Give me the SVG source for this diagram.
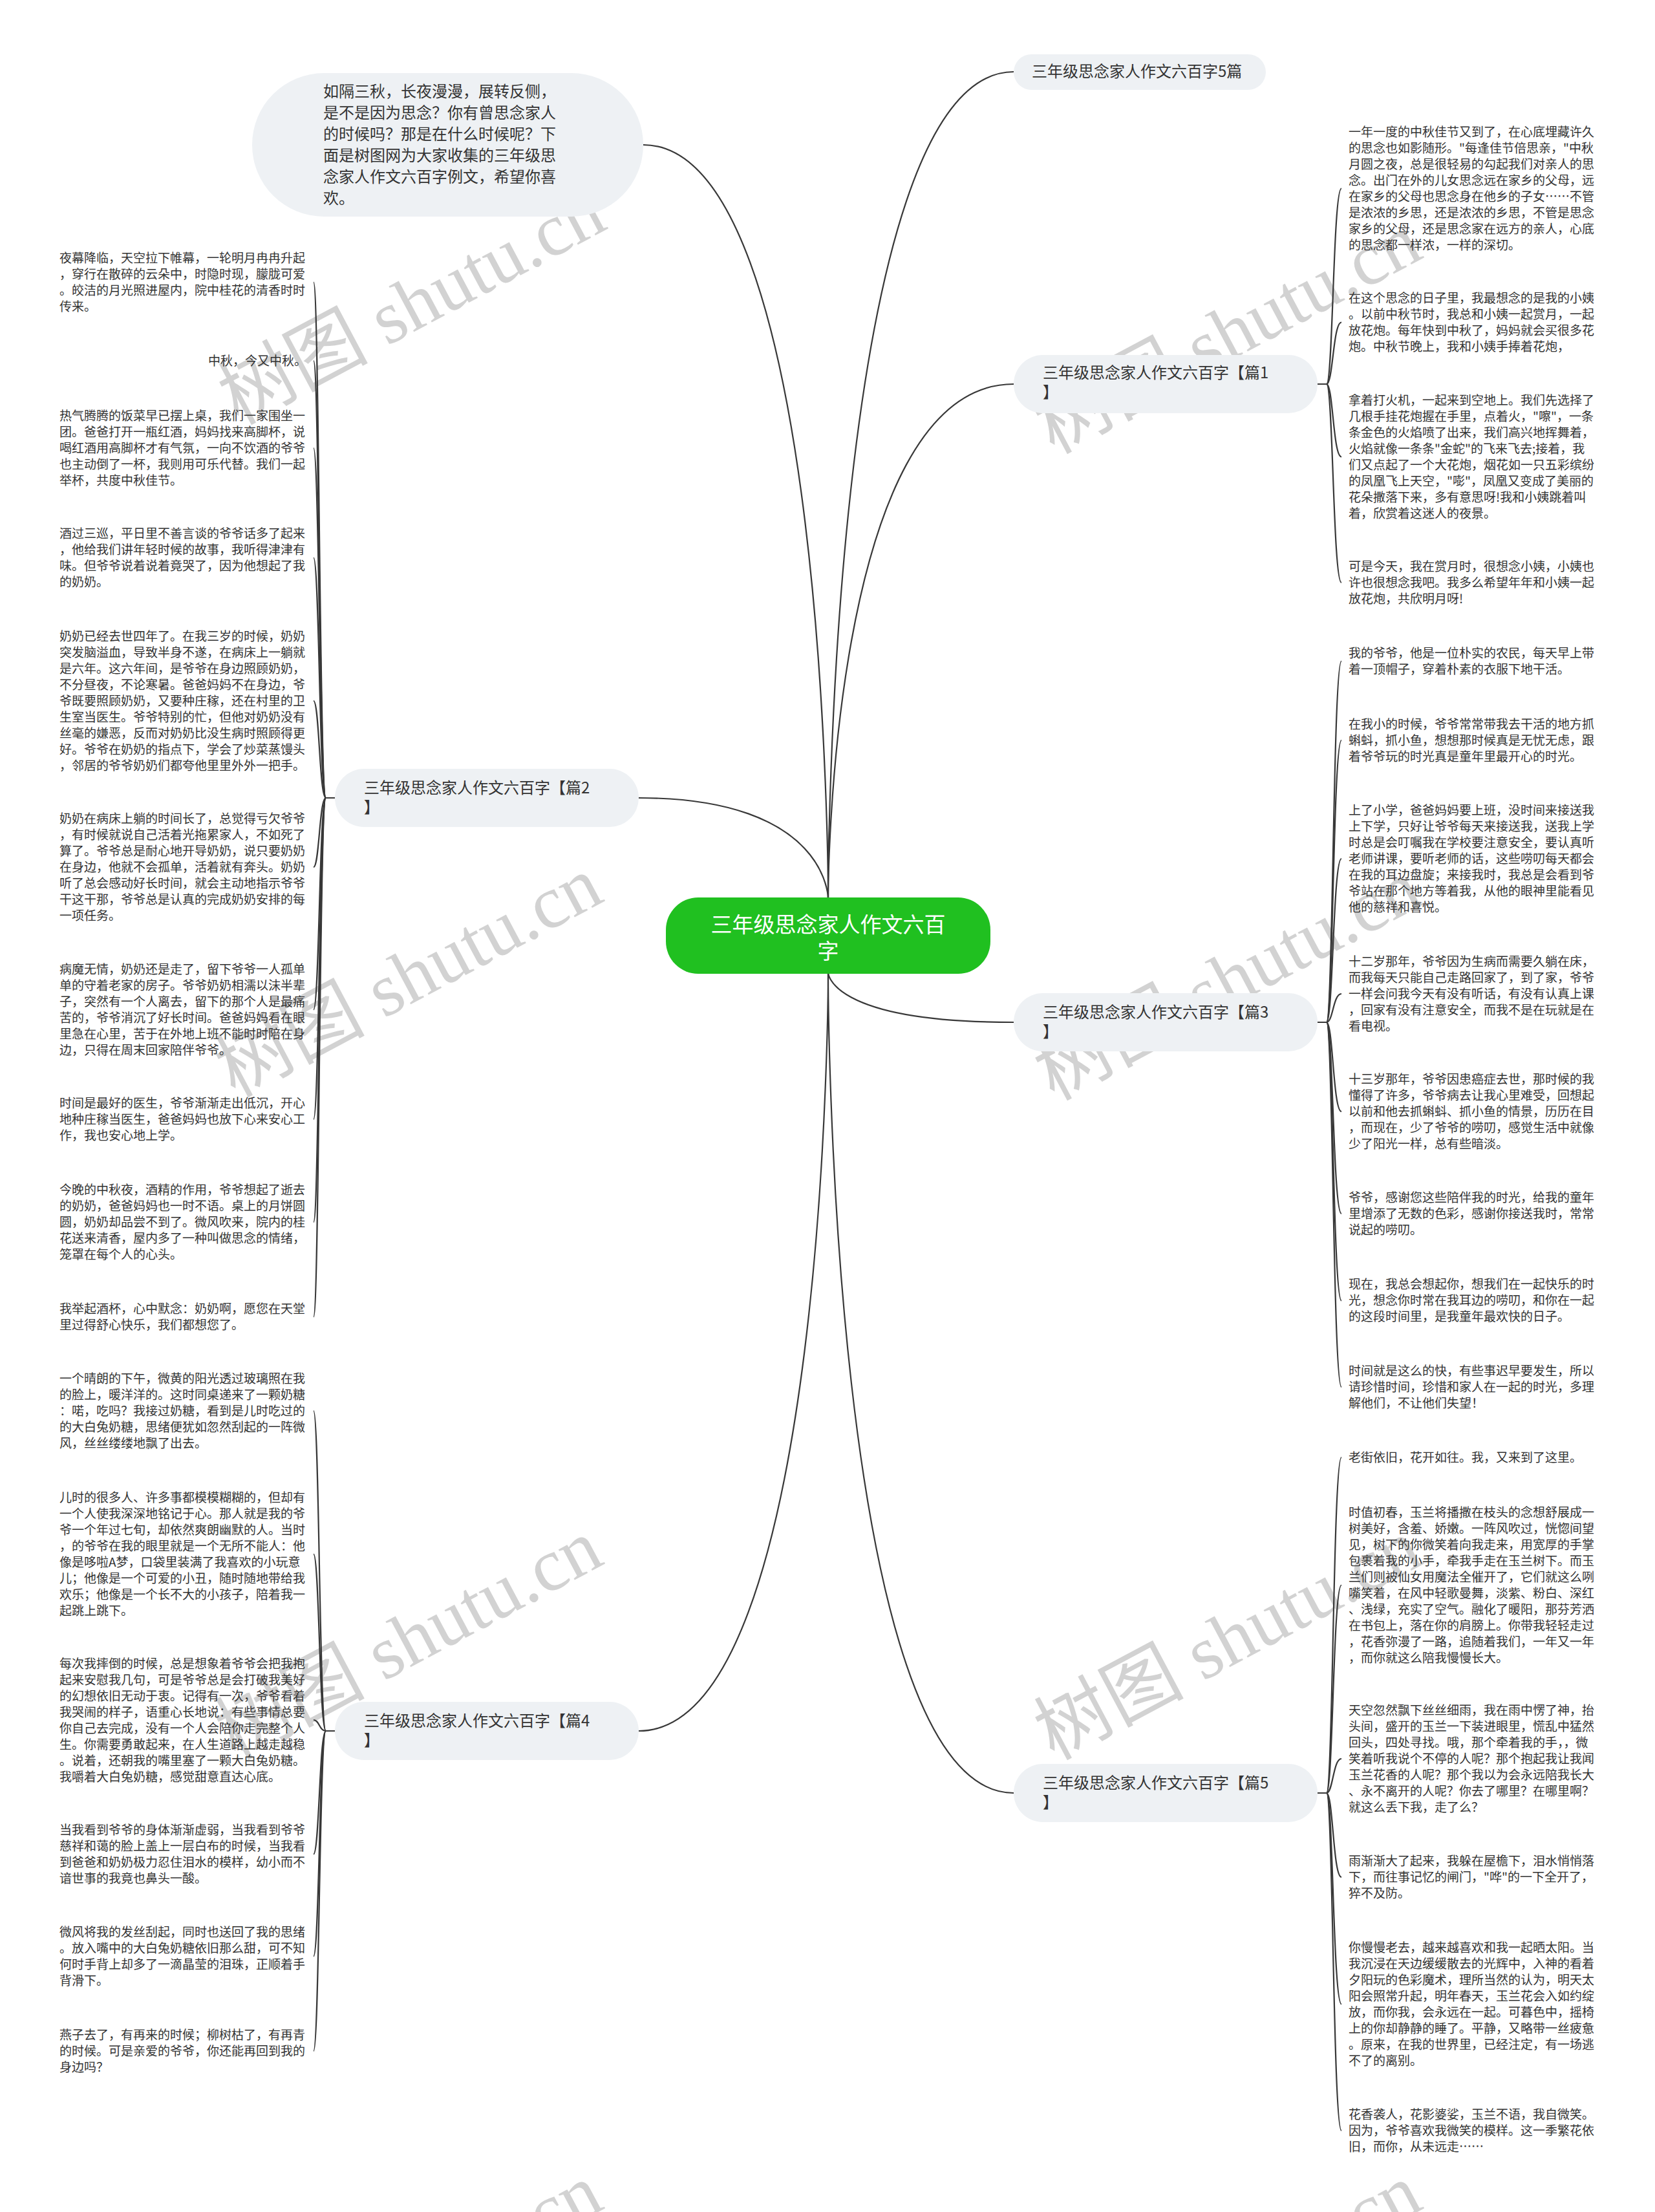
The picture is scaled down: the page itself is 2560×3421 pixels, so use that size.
<svg xmlns="http://www.w3.org/2000/svg" width="2560" height="3421" viewBox="0 0 2560 3421">
<style>
.bg{fill:#ffffff}
.wm{font-family:"Liberation Serif","Noto Sans CJK SC",serif;font-size:116px;fill:#d2d2d2}
.lk{fill:none;stroke:#383838;stroke-width:2.2}
.s{font-family:"Noto Sans CJK SC","Liberation Sans",sans-serif;font-size:19px;fill:#333333}
.b{font-family:"Noto Sans CJK SC","Liberation Sans",sans-serif;font-size:24px;fill:#333333}
.pill{fill:#eef1f4}
.root{fill:#20c020}
.rt{font-family:"Noto Sans CJK SC","Liberation Sans",sans-serif;font-size:33px;fill:#ffffff;text-anchor:middle}
</style>
<rect class="bg" x="0" y="0" width="2560" height="3421"/>
<g id="watermarks">
<text class="wm" transform="translate(368 658) rotate(-28)">树图 shutu.cn</text>
<text class="wm" transform="translate(363 1698) rotate(-28)">树图 shutu.cn</text>
<text class="wm" transform="translate(363 2723) rotate(-28)">树图 shutu.cn</text>
<text class="wm" transform="translate(363 3720) rotate(-28)">树图 shutu.cn</text>
<text class="wm" transform="translate(1630 703) rotate(-28)">树图 shutu.cn</text>
<text class="wm" transform="translate(1630 1703) rotate(-28)">树图 shutu.cn</text>
<text class="wm" transform="translate(1630 2723) rotate(-28)">树图 shutu.cn</text>
<text class="wm" transform="translate(1630 3720) rotate(-28)">树图 shutu.cn</text>
</g>
<g id="links">
<path class="lk" d="M1281 1390 C1281 1390 1281 224 995 224"/>
<path class="lk" d="M1281 1390 C1281 1390 1281 111 1568 111"/>
<path class="lk" d="M1281 1390 C1281 1390 1281 594 1568 594"/>
<path class="lk" d="M1281 1390 C1281 1390 1281 1234 988 1234"/>
<path class="lk" d="M1281 1504 C1281 1504 1281 1581 1568 1581"/>
<path class="lk" d="M1281 1504 C1281 1504 1281 2677 988 2677"/>
<path class="lk" d="M1281 1504 C1281 1504 1281 2773 1568 2773"/>
<path class="lk" d="M2038 594 H2052 C2062 594 2062 291.5 2075 291.5"/>
<path class="lk" d="M2038 594 H2052 C2062 594 2062 498.5 2075 498.5"/>
<path class="lk" d="M2038 594 H2052 C2062 594 2062 706.5 2075 706.5"/>
<path class="lk" d="M2038 594 H2052 C2062 594 2062 901 2075 901"/>
<path class="lk" d="M2038 1581 H2052 C2062 1581 2062 1022.5 2075 1022.5"/>
<path class="lk" d="M2038 1581 H2052 C2062 1581 2062 1145 2075 1145"/>
<path class="lk" d="M2038 1581 H2052 C2062 1581 2062 1328 2075 1328"/>
<path class="lk" d="M2038 1581 H2052 C2062 1581 2062 1537 2075 1537"/>
<path class="lk" d="M2038 1581 H2052 C2062 1581 2062 1719 2075 1719"/>
<path class="lk" d="M2038 1581 H2052 C2062 1581 2062 1877 2075 1877"/>
<path class="lk" d="M2038 1581 H2052 C2062 1581 2062 2011.5 2075 2011.5"/>
<path class="lk" d="M2038 1581 H2052 C2062 1581 2062 2145 2075 2145"/>
<path class="lk" d="M2038 2773 H2052 C2062 2773 2062 2254 2075 2254"/>
<path class="lk" d="M2038 2773 H2052 C2062 2773 2062 2451.5 2075 2451.5"/>
<path class="lk" d="M2038 2773 H2052 C2062 2773 2062 2720 2075 2720"/>
<path class="lk" d="M2038 2773 H2052 C2062 2773 2062 2903 2075 2903"/>
<path class="lk" d="M2038 2773 H2052 C2062 2773 2062 3099.5 2075 3099.5"/>
<path class="lk" d="M2038 2773 H2052 C2062 2773 2062 3295 2075 3295"/>
<path class="lk" d="M518 1234 H504 C494 1234 494 436.5 485 436.5"/>
<path class="lk" d="M518 1234 H504 C494 1234 494 558 485 558"/>
<path class="lk" d="M518 1234 H504 C494 1234 494 693 485 693"/>
<path class="lk" d="M518 1234 H504 C494 1234 494 862.5 485 862.5"/>
<path class="lk" d="M518 1234 H504 C494 1234 494 1084 485 1084"/>
<path class="lk" d="M518 1234 H504 C494 1234 494 1341 485 1341"/>
<path class="lk" d="M518 1234 H504 C494 1234 494 1561.5 485 1561.5"/>
<path class="lk" d="M518 1234 H504 C494 1234 494 1731 485 1731"/>
<path class="lk" d="M518 1234 H504 C494 1234 494 1890 485 1890"/>
<path class="lk" d="M518 1234 H504 C494 1234 494 2036.5 485 2036.5"/>
<path class="lk" d="M518 2677 H504 C494 2677 494 2182 485 2182"/>
<path class="lk" d="M518 2677 H504 C494 2677 494 2403.5 485 2403.5"/>
<path class="lk" d="M518 2677 H504 C494 2677 494 2660 485 2660"/>
<path class="lk" d="M518 2677 H504 C494 2677 494 2867.5 485 2867.5"/>
<path class="lk" d="M518 2677 H504 C494 2677 494 3025.5 485 3025.5"/>
<path class="lk" d="M518 2677 H504 C494 2677 494 3172 485 3172"/>
</g>
<g id="root">
<rect class="root" x="1030" y="1388" width="502" height="118" rx="50"/>
<text class="rt" x="1281" y="1442">三年级思念家人作文六百</text>
<text class="rt" x="1281" y="1483">字</text>
</g>
<g id="intro">
<rect class="pill" x="390" y="113" width="605" height="222" rx="111"/>
<text class="b" x="500" y="150"><tspan x="500">如隔三秋，长夜漫漫，展转反侧，</tspan><tspan x="500" dy="33">是不是因为思念？你有曾思念家人</tspan><tspan x="500" dy="33">的时候吗？那是在什么时候呢？下</tspan><tspan x="500" dy="33">面是树图网为大家收集的三年级思</tspan><tspan x="500" dy="33">念家人作文六百字例文，希望你喜</tspan><tspan x="500" dy="33">欢。</tspan></text>
</g>
<g id="n5">
<rect class="pill" x="1568" y="84" width="390" height="55" rx="27.5"/>
<text class="b" x="1596" y="119">三年级思念家人作文六百字5篇</text>
</g>
<g id="p1">
<rect class="pill" x="1568" y="549" width="470" height="90" rx="45"/>
<text class="b" x="1613" y="585"><tspan x="1613">三年级思念家人作文六百字【篇1</tspan><tspan x="1613" dy="30">】</tspan></text>
</g>
<g id="p3">
<rect class="pill" x="1568" y="1536" width="470" height="90" rx="45"/>
<text class="b" x="1613" y="1574"><tspan x="1613">三年级思念家人作文六百字【篇3</tspan><tspan x="1613" dy="30">】</tspan></text>
</g>
<g id="p5">
<rect class="pill" x="1568" y="2728" width="470" height="90" rx="45"/>
<text class="b" x="1613" y="2766"><tspan x="1613">三年级思念家人作文六百字【篇5</tspan><tspan x="1613" dy="30">】</tspan></text>
</g>
<g id="p2">
<rect class="pill" x="518" y="1189" width="470" height="90" rx="45"/>
<text class="b" x="563" y="1227"><tspan x="563">三年级思念家人作文六百字【篇2</tspan><tspan x="563" dy="30">】</tspan></text>
</g>
<g id="p4">
<rect class="pill" x="518" y="2632" width="470" height="90" rx="45"/>
<text class="b" x="563" y="2670"><tspan x="563">三年级思念家人作文六百字【篇4</tspan><tspan x="563" dy="30">】</tspan></text>
</g>
<g id="p1c1"><text class="s" x="2086" y="211"><tspan x="2086">一年一度的中秋佳节又到了，在心底埋藏许久</tspan><tspan x="2086" dy="25">的思念也如影随形。"每逢佳节倍思亲，"中秋</tspan><tspan x="2086" dy="25">月圆之夜，总是很轻易的勾起我们对亲人的思</tspan><tspan x="2086" dy="25">念。出门在外的儿女思念远在家乡的父母，远</tspan><tspan x="2086" dy="25">在家乡的父母也思念身在他乡的子女……不管</tspan><tspan x="2086" dy="25">是浓浓的乡思，还是浓浓的乡思，不管是思念</tspan><tspan x="2086" dy="25">家乡的父母，还是思念家在远方的亲人，心底</tspan><tspan x="2086" dy="25">的思念都一样浓，一样的深切。</tspan></text></g>
<g id="p1c2"><text class="s" x="2086" y="468"><tspan x="2086">在这个思念的日子里，我最想念的是我的小姨</tspan><tspan x="2086" dy="25">。以前中秋节时，我总和小姨一起赏月，一起</tspan><tspan x="2086" dy="25">放花炮。每年快到中秋了，妈妈就会买很多花</tspan><tspan x="2086" dy="25">炮。中秋节晚上，我和小姨手捧着花炮，</tspan></text></g>
<g id="p1c3"><text class="s" x="2086" y="626"><tspan x="2086">拿着打火机，一起来到空地上。我们先选择了</tspan><tspan x="2086" dy="25">几根手挂花炮握在手里，点着火，"嚓"，一条</tspan><tspan x="2086" dy="25">条金色的火焰喷了出来，我们高兴地挥舞着，</tspan><tspan x="2086" dy="25">火焰就像一条条"金蛇"的飞来飞去;接着，我</tspan><tspan x="2086" dy="25">们又点起了一个大花炮，烟花如一只五彩缤纷</tspan><tspan x="2086" dy="25">的凤凰飞上天空，"嘭"，凤凰又变成了美丽的</tspan><tspan x="2086" dy="25">花朵撒落下来，多有意思呀!我和小姨跳着叫</tspan><tspan x="2086" dy="25">着，欣赏着这迷人的夜景。</tspan></text></g>
<g id="p1c4"><text class="s" x="2086" y="883"><tspan x="2086">可是今天，我在赏月时，很想念小姨，小姨也</tspan><tspan x="2086" dy="25">许也很想念我吧。我多么希望年年和小姨一起</tspan><tspan x="2086" dy="25">放花炮，共欣明月呀!</tspan></text></g>
<g id="p3c1"><text class="s" x="2086" y="1017"><tspan x="2086">我的爷爷，他是一位朴实的农民，每天早上带</tspan><tspan x="2086" dy="25">着一顶帽子，穿着朴素的衣服下地干活。</tspan></text></g>
<g id="p3c2"><text class="s" x="2086" y="1127"><tspan x="2086">在我小的时候，爷爷常常带我去干活的地方抓</tspan><tspan x="2086" dy="25">蝌蚪，抓小鱼，想想那时候真是无忧无虑，跟</tspan><tspan x="2086" dy="25">着爷爷玩的时光真是童年里最开心的时光。</tspan></text></g>
<g id="p3c3"><text class="s" x="2086" y="1260"><tspan x="2086">上了小学，爸爸妈妈要上班，没时间来接送我</tspan><tspan x="2086" dy="25">上下学，只好让爷爷每天来接送我，送我上学</tspan><tspan x="2086" dy="25">时总是会叮嘱我在学校要注意安全，要认真听</tspan><tspan x="2086" dy="25">老师讲课，要听老师的话，这些唠叨每天都会</tspan><tspan x="2086" dy="25">在我的耳边盘旋；来接我时，我总是会看到爷</tspan><tspan x="2086" dy="25">爷站在那个地方等着我，从他的眼神里能看见</tspan><tspan x="2086" dy="25">他的慈祥和喜悦。</tspan></text></g>
<g id="p3c4"><text class="s" x="2086" y="1494"><tspan x="2086">十二岁那年，爷爷因为生病而需要久躺在床，</tspan><tspan x="2086" dy="25">而我每天只能自己走路回家了，到了家，爷爷</tspan><tspan x="2086" dy="25">一样会问我今天有没有听话，有没有认真上课</tspan><tspan x="2086" dy="25">，回家有没有注意安全，而我不是在玩就是在</tspan><tspan x="2086" dy="25">看电视。</tspan></text></g>
<g id="p3c5"><text class="s" x="2086" y="1676"><tspan x="2086">十三岁那年，爷爷因患癌症去世，那时候的我</tspan><tspan x="2086" dy="25">懂得了许多，爷爷病去让我心里难受，回想起</tspan><tspan x="2086" dy="25">以前和他去抓蝌蚪、抓小鱼的情景，历历在目</tspan><tspan x="2086" dy="25">，而现在，少了爷爷的唠叨，感觉生活中就像</tspan><tspan x="2086" dy="25">少了阳光一样，总有些暗淡。</tspan></text></g>
<g id="p3c6"><text class="s" x="2086" y="1859"><tspan x="2086">爷爷，感谢您这些陪伴我的时光，给我的童年</tspan><tspan x="2086" dy="25">里增添了无数的色彩，感谢你接送我时，常常</tspan><tspan x="2086" dy="25">说起的唠叨。</tspan></text></g>
<g id="p3c7"><text class="s" x="2086" y="1993"><tspan x="2086">现在，我总会想起你，想我们在一起快乐的时</tspan><tspan x="2086" dy="25">光，想念你时常在我耳边的唠叨，和你在一起</tspan><tspan x="2086" dy="25">的这段时间里，是我童年最欢快的日子。</tspan></text></g>
<g id="p3c8"><text class="s" x="2086" y="2127"><tspan x="2086">时间就是这么的快，有些事迟早要发生，所以</tspan><tspan x="2086" dy="25">请珍惜时间，珍惜和家人在一起的时光，多理</tspan><tspan x="2086" dy="25">解他们，不让他们失望！</tspan></text></g>
<g id="p5c1"><text class="s" x="2086" y="2261">老街依旧，花开如往。我，又来到了这里。</text></g>
<g id="p5c2"><text class="s" x="2086" y="2346"><tspan x="2086">时值初春，玉兰将播撒在枝头的念想舒展成一</tspan><tspan x="2086" dy="25">树美好，含羞、娇嫩。一阵风吹过，恍惚间望</tspan><tspan x="2086" dy="25">见，树下的你微笑着向我走来，用宽厚的手掌</tspan><tspan x="2086" dy="25">包裹着我的小手，牵我手走在玉兰树下。而玉</tspan><tspan x="2086" dy="25">兰们则被仙女用魔法全催开了，它们就这么咧</tspan><tspan x="2086" dy="25">嘴笑着，在风中轻歌曼舞，淡紫、粉白、深红</tspan><tspan x="2086" dy="25">、浅绿，充实了空气。融化了暖阳，那芬芳洒</tspan><tspan x="2086" dy="25">在书包上，落在你的肩膀上。你带我轻轻走过</tspan><tspan x="2086" dy="25">，花香弥漫了一路，追随着我们，一年又一年</tspan><tspan x="2086" dy="25">，而你就这么陪我慢慢长大。</tspan></text></g>
<g id="p5c3"><text class="s" x="2086" y="2652"><tspan x="2086">天空忽然飘下丝丝细雨，我在雨中愣了神，抬</tspan><tspan x="2086" dy="25">头间，盛开的玉兰一下装进眼里，慌乱中猛然</tspan><tspan x="2086" dy="25">回头，四处寻找。哦，那个牵着我的手，，微</tspan><tspan x="2086" dy="25">笑着听我说个不停的人呢？那个抱起我让我闻</tspan><tspan x="2086" dy="25">玉兰花香的人呢？那个我以为会永远陪我长大</tspan><tspan x="2086" dy="25">、永不离开的人呢？你去了哪里？在哪里啊？</tspan><tspan x="2086" dy="25">就这么丢下我，走了么？</tspan></text></g>
<g id="p5c4"><text class="s" x="2086" y="2885"><tspan x="2086">雨渐渐大了起来，我躲在屋檐下，泪水悄悄落</tspan><tspan x="2086" dy="25">下，而往事记忆的闸门，"哗"的一下全开了，</tspan><tspan x="2086" dy="25">猝不及防。</tspan></text></g>
<g id="p5c5"><text class="s" x="2086" y="3019"><tspan x="2086">你慢慢老去，越来越喜欢和我一起晒太阳。当</tspan><tspan x="2086" dy="25">我沉浸在天边缓缓散去的光辉中，入神的看着</tspan><tspan x="2086" dy="25">夕阳玩的色彩魔术，理所当然的认为，明天太</tspan><tspan x="2086" dy="25">阳会照常升起，明年春天，玉兰花会入如约绽</tspan><tspan x="2086" dy="25">放，而你我，会永远在一起。可暮色中，摇椅</tspan><tspan x="2086" dy="25">上的你却静静的睡了。平静，又略带一丝疲惫</tspan><tspan x="2086" dy="25">。原来，在我的世界里，已经注定，有一场逃</tspan><tspan x="2086" dy="25">不了的离别。</tspan></text></g>
<g id="p5c6"><text class="s" x="2086" y="3277"><tspan x="2086">花香袭人，花影婆娑，玉兰不语，我自微笑。</tspan><tspan x="2086" dy="25">因为，爷爷喜欢我微笑的模样。这一季繁花依</tspan><tspan x="2086" dy="25">旧，而你，从未远走……</tspan></text></g>
<g id="p2c1"><text class="s" x="92" y="406"><tspan x="92">夜幕降临，天空拉下帷幕，一轮明月冉冉升起</tspan><tspan x="92" dy="25">，穿行在散碎的云朵中，时隐时现，朦胧可爱</tspan><tspan x="92" dy="25">。皎洁的月光照进屋内，院中桂花的清香时时</tspan><tspan x="92" dy="25">传来。</tspan></text></g>
<g id="p2c2"><text class="s" x="322" y="565">中秋，今又中秋。</text></g>
<g id="p2c3"><text class="s" x="92" y="650"><tspan x="92">热气腾腾的饭菜早已摆上桌，我们一家围坐一</tspan><tspan x="92" dy="25">团。爸爸打开一瓶红酒，妈妈找来高脚杯，说</tspan><tspan x="92" dy="25">喝红酒用高脚杯才有气氛，一向不饮酒的爷爷</tspan><tspan x="92" dy="25">也主动倒了一杯，我则用可乐代替。我们一起</tspan><tspan x="92" dy="25">举杯，共度中秋佳节。</tspan></text></g>
<g id="p2c4"><text class="s" x="92" y="832"><tspan x="92">酒过三巡，平日里不善言谈的爷爷话多了起来</tspan><tspan x="92" dy="25">，他给我们讲年轻时候的故事，我听得津津有</tspan><tspan x="92" dy="25">味。但爷爷说着说着竟哭了，因为他想起了我</tspan><tspan x="92" dy="25">的奶奶。</tspan></text></g>
<g id="p2c5"><text class="s" x="92" y="991"><tspan x="92">奶奶已经去世四年了。在我三岁的时候，奶奶</tspan><tspan x="92" dy="25">突发脑溢血，导致半身不遂，在病床上一躺就</tspan><tspan x="92" dy="25">是六年。这六年间，是爷爷在身边照顾奶奶，</tspan><tspan x="92" dy="25">不分昼夜，不论寒暑。爸爸妈妈不在身边，爷</tspan><tspan x="92" dy="25">爷既要照顾奶奶，又要种庄稼，还在村里的卫</tspan><tspan x="92" dy="25">生室当医生。爷爷特别的忙，但他对奶奶没有</tspan><tspan x="92" dy="25">丝毫的嫌恶，反而对奶奶比没生病时照顾得更</tspan><tspan x="92" dy="25">好。爷爷在奶奶的指点下，学会了炒菜蒸馒头</tspan><tspan x="92" dy="25">，邻居的爷爷奶奶们都夸他里里外外一把手。</tspan></text></g>
<g id="p2c6"><text class="s" x="92" y="1273"><tspan x="92">奶奶在病床上躺的时间长了，总觉得亏欠爷爷</tspan><tspan x="92" dy="25">，有时候就说自己活着光拖累家人，不如死了</tspan><tspan x="92" dy="25">算了。爷爷总是耐心地开导奶奶，说只要奶奶</tspan><tspan x="92" dy="25">在身边，他就不会孤单，活着就有奔头。奶奶</tspan><tspan x="92" dy="25">听了总会感动好长时间，就会主动地指示爷爷</tspan><tspan x="92" dy="25">干这干那，爷爷总是认真的完成奶奶安排的每</tspan><tspan x="92" dy="25">一项任务。</tspan></text></g>
<g id="p2c7"><text class="s" x="92" y="1506"><tspan x="92">病魔无情，奶奶还是走了，留下爷爷一人孤单</tspan><tspan x="92" dy="25">单的守着老家的房子。爷爷奶奶相濡以沫半辈</tspan><tspan x="92" dy="25">子，突然有一个人离去，留下的那个人是最痛</tspan><tspan x="92" dy="25">苦的，爷爷消沉了好长时间。爸爸妈妈看在眼</tspan><tspan x="92" dy="25">里急在心里，苦于在外地上班不能时时陪在身</tspan><tspan x="92" dy="25">边，只得在周末回家陪伴爷爷。</tspan></text></g>
<g id="p2c8"><text class="s" x="92" y="1713"><tspan x="92">时间是最好的医生，爷爷渐渐走出低沉，开心</tspan><tspan x="92" dy="25">地种庄稼当医生，爸爸妈妈也放下心来安心工</tspan><tspan x="92" dy="25">作，我也安心地上学。</tspan></text></g>
<g id="p2c9"><text class="s" x="92" y="1847"><tspan x="92">今晚的中秋夜，酒精的作用，爷爷想起了逝去</tspan><tspan x="92" dy="25">的奶奶，爸爸妈妈也一时不语。桌上的月饼圆</tspan><tspan x="92" dy="25">圆，奶奶却品尝不到了。微风吹来，院内的桂</tspan><tspan x="92" dy="25">花送来清香，屋内多了一种叫做思念的情绪，</tspan><tspan x="92" dy="25">笼罩在每个人的心头。</tspan></text></g>
<g id="p2c10"><text class="s" x="92" y="2031"><tspan x="92">我举起酒杯，心中默念：奶奶啊，愿您在天堂</tspan><tspan x="92" dy="25">里过得舒心快乐，我们都想您了。</tspan></text></g>
<g id="p4c1"><text class="s" x="92" y="2139"><tspan x="92">一个晴朗的下午，微黄的阳光透过玻璃照在我</tspan><tspan x="92" dy="25">的脸上，暖洋洋的。这时同桌递来了一颗奶糖</tspan><tspan x="92" dy="25">：喏，吃吗？我接过奶糖，看到是儿时吃过的</tspan><tspan x="92" dy="25">的大白兔奶糖，思绪便犹如忽然刮起的一阵微</tspan><tspan x="92" dy="25">风，丝丝缕缕地飘了出去。</tspan></text></g>
<g id="p4c2"><text class="s" x="92" y="2323"><tspan x="92">儿时的很多人、许多事都模模糊糊的，但却有</tspan><tspan x="92" dy="25">一个人使我深深地铭记于心。那人就是我的爷</tspan><tspan x="92" dy="25">爷一个年过七旬，却依然爽朗幽默的人。当时</tspan><tspan x="92" dy="25">，的爷爷在我的眼里就是一个无所不能人：他</tspan><tspan x="92" dy="25">像是哆啦A梦，口袋里装满了我喜欢的小玩意</tspan><tspan x="92" dy="25">儿；他像是一个可爱的小丑，随时随地带给我</tspan><tspan x="92" dy="25">欢乐；他像是一个长不大的小孩子，陪着我一</tspan><tspan x="92" dy="25">起跳上跳下。</tspan></text></g>
<g id="p4c3"><text class="s" x="92" y="2580"><tspan x="92">每次我摔倒的时候，总是想象着爷爷会把我抱</tspan><tspan x="92" dy="25">起来安慰我几句，可是爷爷总是会打破我美好</tspan><tspan x="92" dy="25">的幻想依旧无动于衷。记得有一次，爷爷看着</tspan><tspan x="92" dy="25">我哭闹的样子，语重心长地说：有些事情总要</tspan><tspan x="92" dy="25">你自己去完成，没有一个人会陪你走完整个人</tspan><tspan x="92" dy="25">生。你需要勇敢起来，在人生道路上越走越稳</tspan><tspan x="92" dy="25">。说着，还朝我的嘴里塞了一颗大白兔奶糖。</tspan><tspan x="92" dy="25">我嚼着大白兔奶糖，感觉甜意直达心底。</tspan></text></g>
<g id="p4c4"><text class="s" x="92" y="2837"><tspan x="92">当我看到爷爷的身体渐渐虚弱，当我看到爷爷</tspan><tspan x="92" dy="25">慈祥和蔼的脸上盖上一层白布的时候，当我看</tspan><tspan x="92" dy="25">到爸爸和奶奶极力忍住泪水的模样，幼小而不</tspan><tspan x="92" dy="25">谙世事的我竟也鼻头一酸。</tspan></text></g>
<g id="p4c5"><text class="s" x="92" y="2995"><tspan x="92">微风将我的发丝刮起，同时也送回了我的思绪</tspan><tspan x="92" dy="25">。放入嘴中的大白兔奶糖依旧那么甜，可不知</tspan><tspan x="92" dy="25">何时手背上却多了一滴晶莹的泪珠，正顺着手</tspan><tspan x="92" dy="25">背滑下。</tspan></text></g>
<g id="p4c6"><text class="s" x="92" y="3154"><tspan x="92">燕子去了，有再来的时候；柳树枯了，有再青</tspan><tspan x="92" dy="25">的时候。可是亲爱的爷爷，你还能再回到我的</tspan><tspan x="92" dy="25">身边吗？</tspan></text></g>
</svg>
